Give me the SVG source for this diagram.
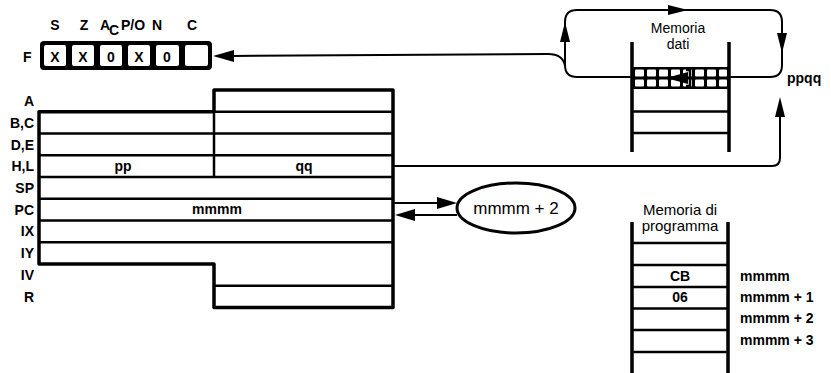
<svg xmlns="http://www.w3.org/2000/svg" width="831" height="373" viewBox="0 0 831 373">
<style>
text{font-family:"Liberation Sans",Arial,sans-serif;fill:#000}
.b{font-weight:bold;font-size:14px}
.r{font-size:15px}
.lab{font-weight:bold;font-size:14px;text-anchor:end}
.c{text-anchor:middle}
.thick{fill:none;stroke:#000;stroke-width:3.5;stroke-linejoin:round}
.mid{fill:none;stroke:#000;stroke-width:2.5}
.ln{fill:none;stroke:#000;stroke-width:2}
.ah{fill:#000}
</style>
<rect width="831" height="373" fill="#fff"/>

<g id="flags">
  <text class="b c" x="55" y="30">S</text>
  <text class="b c" x="84" y="30">Z</text>
  <text class="b" x="100" y="30">A</text>
  <text class="b" x="109" y="35" font-size="13">C</text>
  <text class="b" x="121" y="30">P/O</text>
  <text class="b c" x="157" y="30">N</text>
  <text class="b c" x="192" y="30">C</text>
  <text class="b" x="23" y="62">F</text>
  <rect x="40" y="41" width="172" height="29" rx="4" fill="#000"/>
  <rect x="44" y="45" width="22" height="21" rx="2" fill="#fff"/>
  <rect x="72" y="45" width="22" height="21" rx="2" fill="#fff"/>
  <rect x="100" y="45" width="22" height="21" rx="2" fill="#fff"/>
  <rect x="128" y="45" width="22" height="21" rx="2" fill="#fff"/>
  <rect x="156" y="45" width="23" height="21" rx="2" fill="#fff"/>
  <rect x="185" y="45" width="23" height="21" rx="2" fill="#fff"/>
  <text class="b c" x="55" y="62" font-size="15">X</text>
  <text class="b c" x="83" y="62" font-size="15">X</text>
  <text class="b c" x="111" y="62" font-size="15">0</text>
  <text class="b c" x="139" y="62" font-size="15">X</text>
  <text class="b c" x="167" y="62" font-size="15">0</text>
</g>

<g id="registers">
  <path class="thick" d="M214 90 H393 V307.5 H214 V264 H39 V111.75 H214 Z"/>
  <path class="mid" d="M214 111.75 H393 M39 133.5 H393 M39 155.25 H393 M39 177 H393 M39 198.75 H393 M39 220.5 H393 M39 242.25 H393 M214 285.75 H393 M214 111.75 V177"/>
  <text class="lab" x="34" y="106">A</text>
  <text class="lab" x="34" y="128">B,C</text>
  <text class="lab" x="34" y="150">D,E</text>
  <text class="lab" x="34" y="171">H,L</text>
  <text class="lab" x="34" y="193">SP</text>
  <text class="lab" x="34" y="215">PC</text>
  <text class="lab" x="34" y="236">IX</text>
  <text class="lab" x="34" y="258">IY</text>
  <text class="lab" x="34" y="280">IV</text>
  <text class="lab" x="34" y="302">R</text>
  <text class="b c" x="123" y="171" font-size="15">pp</text>
  <text class="b c" x="304" y="171" font-size="15">qq</text>
  <text class="b c" x="217" y="214" font-size="15">mmmm</text>
</g>

<g id="pc-next">
  <ellipse cx="516" cy="208" rx="59" ry="25" fill="#fff" stroke="#000" stroke-width="3"/>
  <text class="c" x="516" y="214" font-size="17">mmmm + 2</text>
</g>

<g id="data-memory">
  <rect x="632" y="67" width="97" height="22" fill="#000"/>
  <g fill="#fff">
    <rect x="635" y="69.5" width="9" height="7" rx="1"/><rect x="647" y="69.5" width="9" height="7" rx="1"/><rect x="659" y="69.5" width="9" height="7" rx="1"/><rect x="671" y="69.5" width="9" height="7" rx="1"/><rect x="683" y="69.5" width="9" height="7" rx="1"/><rect x="695" y="69.5" width="9" height="7" rx="1"/><rect x="707" y="69.5" width="9" height="7" rx="1"/><rect x="719" y="69.5" width="8" height="7" rx="1"/>
    <rect x="635" y="79.5" width="9" height="7" rx="1"/><rect x="647" y="79.5" width="9" height="7" rx="1"/><rect x="659" y="79.5" width="9" height="7" rx="1"/><rect x="671" y="79.5" width="9" height="7" rx="1"/><rect x="683" y="79.5" width="9" height="7" rx="1"/><rect x="695" y="79.5" width="9" height="7" rx="1"/><rect x="707" y="79.5" width="9" height="7" rx="1"/><rect x="719" y="79.5" width="8" height="7" rx="1"/>
  </g>
  <polygon class="ah" points="666,78 688,72 688,84"/>
  <path d="M686 70 H690 V86 H686" fill="none" stroke="#000" stroke-width="2.5"/>
  <path class="thick" d="M632 42 V152 M729 42 V152"/>
  <path class="mid" d="M632 111.5 H729 M632 133 H729"/>
  <text class="c" x="678" y="33" font-size="14">Memoria</text>
  <text class="c" x="678" y="49" font-size="14">dati</text>
  <text class="b" x="787" y="83">ppqq</text>
</g>

<g id="program-memory">
  <path class="thick" d="M632 222 V373 M728 222 V373"/>
  <path class="mid" d="M632 243 H728 M632 265 H728 M632 287 H728 M632 308.5 H728 M632 330 H728 M632 352 H728"/>
  <text class="r c" x="680" y="215">Memoria di</text>
  <text class="r c" x="680" y="231">programma</text>
  <text class="b c" x="680" y="281" font-size="15">CB</text>
  <text class="b c" x="680" y="302" font-size="15">06</text>
  <text class="b" x="740" y="281">mmmm</text>
  <text class="b" x="740" y="302">mmmm + 1</text>
  <text class="b" x="740" y="323">mmmm + 2</text>
  <text class="b" x="740" y="345">mmmm + 3</text>
</g>

<g id="connectors">
  <path class="ln" d="M232 56 L548 54 Q563 54 565 66"/>
  <polygon class="ah" points="213,56 234,50 234,62"/>
  <path class="ln" d="M632 77 H577 Q565 77 565 65 V22 Q565 10 577 10 H770 Q782 10 782 22 V65 Q782 77 770 77 H729"/>
  <polygon class="ah" points="565,22 560,42 570,42"/>
  <polygon class="ah" points="688,10 668,5 668,15"/>
  <polygon class="ah" points="782,53 777,33 787,33"/>
  <path class="ln" d="M393 166 H772 Q780 166 780 158 V112"/>
  <polygon class="ah" points="780,97 775,117 785,117"/>
  <path class="ln" d="M393 203 H440"/>
  <polygon class="ah" points="457,203 437,197 437,209"/>
  <path class="ln" d="M457 215 H412"/>
  <polygon class="ah" points="395,215 415,209 415,221"/>
</g>
</svg>
